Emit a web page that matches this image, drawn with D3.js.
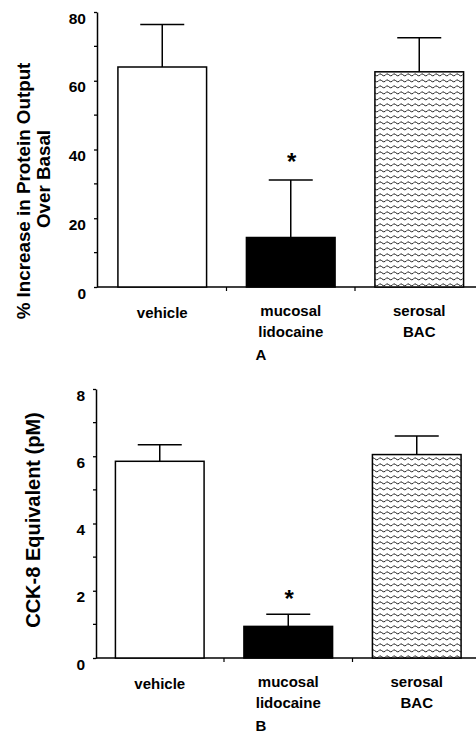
<!DOCTYPE html>
<html>
<head>
<meta charset="utf-8">
<script src="https://cdn.jsdelivr.net/npm/d3@7"></script>
<style>
  body { margin: 0; background: #fff; }
  svg { display: block; font-family: "Liberation Sans", Arial, sans-serif; font-weight: bold; }
</style>
</head>
<body>
<div id="chart"></div>
<script>
// categories (label lines) shared by both panels
const categories = ["vehicle", "mucosal lidocaine", "serosal BAC"];
const catLines = [["vehicle"], ["mucosal", "lidocaine"], ["serosal", "BAC"]];
const fills = ["white", "black", "url(#wave)"];

// panel A: % increase in protein output over basal
const meansA = [64, 14.4, 62.6];
const errA = [12.4, 16.7, 9.9];
const ticksA = [0, 20, 40, 60, 80];
const minorA = [10, 30, 50, 70];

// panel B: CCK-8 equivalent (pM)
const meansB = [5.85, 0.94, 6.05];
const errB = [0.49, 0.36, 0.55];
const ticksB = [0, 2, 4, 6, 8];
const minorB = [1, 3, 5, 7];

const starred = "mucosal lidocaine";

const w = 476, h = 734;

const svg = d3.select("#chart").append("svg")
  .attr("width", w)
  .attr("height", h);

// wavy fill used on the serosal bar
const defs = svg.append("defs");
const pat = defs.append("pattern")
  .attr("id", "wave")
  .attr("patternUnits", "userSpaceOnUse")
  .attr("width", 7)
  .attr("height", 6);
pat.append("rect").attr("width", 7).attr("height", 6).attr("fill", "white");
pat.append("path")
  .attr("d", "M0,3.5 Q1.75,0.5 3.5,2.5 Q5.25,4.5 7,3.5")
  .attr("fill", "none")
  .attr("stroke", "#222")
  .attr("stroke-width", 1);

function panel(opts) {
  const g = svg.append("g");

  const y = d3.scaleLinear().domain(opts.domain).range([opts.bottom, opts.top]);
  const x = d3.scaleBand()
    .domain(categories)
    .range([opts.x0, opts.x0 + 3 * 128.5])
    .paddingInner(0.31)
    .paddingOuter(0.155);

  // y axis
  const yAxis = g.append("g")
    .attr("transform", `translate(${opts.axisX},0)`)
    .call(d3.axisLeft(y).tickValues(opts.ticks).tickSize(3).tickSizeOuter(0));
  yAxis.select(".domain").attr("stroke-width", 1.5);
  yAxis.selectAll(".tick line").attr("stroke-width", 1.3);
  yAxis.selectAll(".tick text")
    .attr("font-size", 15.5)
    .attr("font-weight", "bold")
    .attr("font-family", "Liberation Sans, Arial, sans-serif")
    .attr("fill", "black")
    .attr("x", -11)
    .attr("dy", "0.72em");

  g.append("g").selectAll("line")
    .data(opts.minor)
    .enter().append("line")
    .attr("x1", opts.axisX - 3)
    .attr("x2", opts.axisX)
    .attr("y1", d => y(d))
    .attr("y2", d => y(d))
    .attr("stroke", "black")
    .attr("stroke-width", 1.3);

  // x axis line with separators between the groups
  g.append("line")
    .attr("x1", opts.axisX)
    .attr("x2", w)
    .attr("y1", y(0))
    .attr("y2", y(0))
    .attr("stroke", "black")
    .attr("stroke-width", 1.5);

  g.selectAll(".sep")
    .data([categories[1], categories[2]])
    .enter().append("line")
    .attr("class", "sep")
    .attr("x1", d => x(d) - x.step() * x.paddingInner() / 2)
    .attr("x2", d => x(d) - x.step() * x.paddingInner() / 2)
    .attr("y1", y(0))
    .attr("y2", y(0) + 4)
    .attr("stroke", "black")
    .attr("stroke-width", 1.2);

  // error bars (upper only)
  const err = g.selectAll(".err")
    .data(categories)
    .enter().append("g")
    .attr("class", "err");
  err.append("line")
    .attr("x1", d => x(d) + x.bandwidth() / 2)
    .attr("x2", d => x(d) + x.bandwidth() / 2)
    .attr("y1", (d, i) => y(opts.means[i]))
    .attr("y2", (d, i) => y(opts.means[i] + opts.errs[i]))
    .attr("stroke", "black")
    .attr("stroke-width", 1.5);
  err.append("line")
    .attr("x1", d => x(d) + x.bandwidth() / 2 - 22)
    .attr("x2", d => x(d) + x.bandwidth() / 2 + 22)
    .attr("y1", (d, i) => y(opts.means[i] + opts.errs[i]))
    .attr("y2", (d, i) => y(opts.means[i] + opts.errs[i]))
    .attr("stroke", "black")
    .attr("stroke-width", 1.5);

  // bars
  g.selectAll(".bar")
    .data(categories)
    .enter().append("rect")
    .attr("class", "bar")
    .attr("x", d => x(d))
    .attr("y", (d, i) => y(opts.means[i]))
    .attr("width", x.bandwidth())
    .attr("height", (d, i) => y(0) - y(opts.means[i]))
    .attr("fill", (d, i) => fills[i])
    .attr("stroke", "black")
    .attr("stroke-width", 1.5);

  // significance star
  const si = categories.indexOf(starred);
  g.append("text")
    .attr("x", x(starred) + x.bandwidth() / 2 + 1)
    .attr("y", y(opts.means[si] + opts.errs[si]) - opts.starGap)
    .attr("text-anchor", "middle")
    .attr("font-size", 24)
    .text("*");

  // category labels
  const lab = g.selectAll(".lab")
    .data(catLines)
    .enter().append("text")
    .attr("class", "lab")
    .attr("text-anchor", "middle")
    .attr("font-size", 15);
  lab.selectAll("tspan")
    .data((d, i) => d.map((t, j) => ({ t: t, j: j, n: d.length, c: categories[i] })))
    .enter().append("tspan")
    .attr("x", d => x(d.c) + x.bandwidth() / 2)
    .attr("y", d => y(0) + (d.n === 1 ? 31 : 29 + d.j * 21))
    .text(d => d.t);

  // panel letter
  g.append("text")
    .attr("x", 261)
    .attr("y", y(0) + 73)
    .attr("text-anchor", "middle")
    .attr("font-size", 15)
    .text(opts.letter);

  // y title
  opts.title.forEach((t, j) => {
    g.append("text")
      .attr("transform", `translate(${opts.titleX + j * 20},${opts.titleY[j]}) rotate(-90)`)
      .attr("text-anchor", "middle")
      .attr("font-size", opts.titleSize)
      .text(t);
  });
}

panel({
  domain: [0, 80], top: 12, bottom: 287, axisX: 97, x0: 98,
  means: meansA, errs: errA, ticks: ticksA, minor: minorA, starGap: 10,
  letter: "A", title: ["% Increase in Protein Output", "Over Basal"],
  titleX: 30, titleY: [191, 179], titleSize: 18.8
});

panel({
  domain: [0, 8], top: 389, bottom: 658, axisX: 96, x0: 95.5,
  means: meansB, errs: errB, ticks: ticksB, minor: minorB, starGap: 7,
  letter: "B", title: ["CCK-8 Equivalent (pM)"],
  titleX: 40, titleY: [520], titleSize: 20
});
</script>
</body>
</html>
